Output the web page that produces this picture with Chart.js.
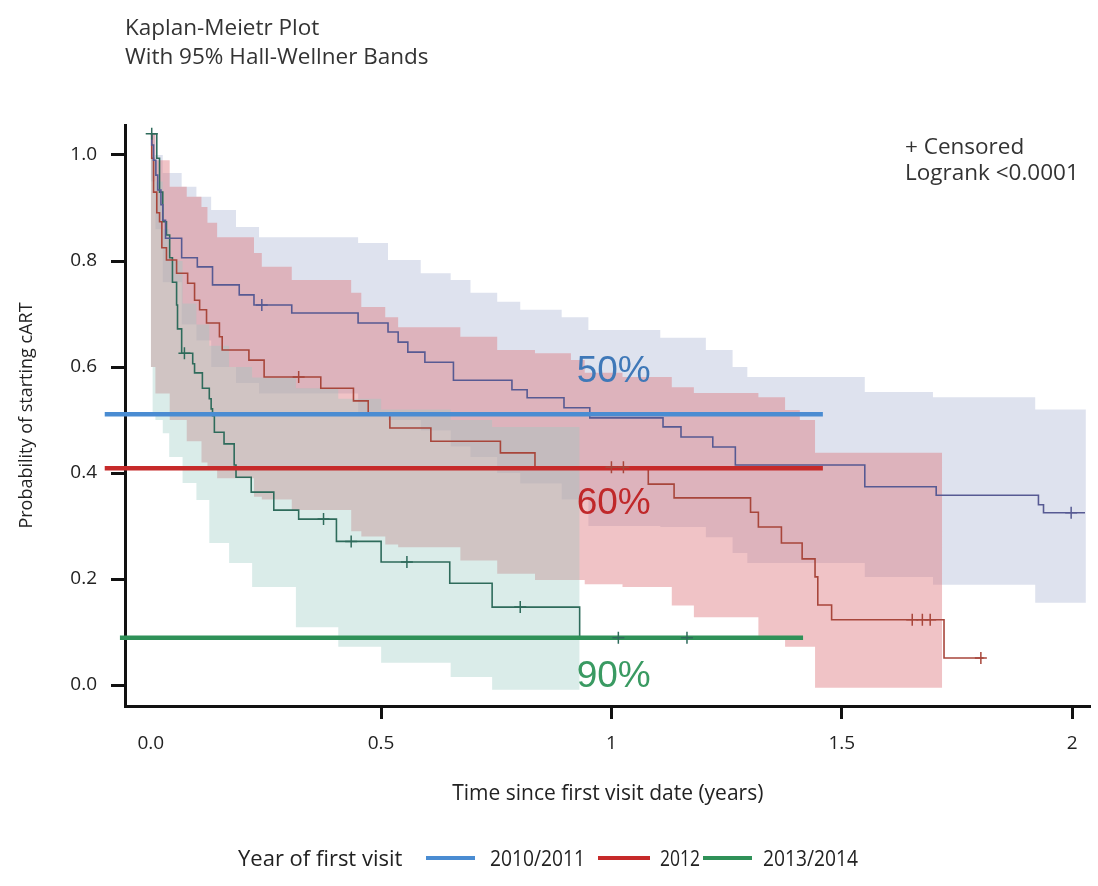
<!DOCTYPE html>
<html>
<head>
<meta charset="utf-8">
<style>
html, body { margin: 0; padding: 0; background: #fff; }
#wrap { width: 1098px; height: 886px; }
</style>
<script src="https://cdn.jsdelivr.net/npm/chart.js@4.4.1/dist/chart.umd.min.js"></script>
</head>
<body>
<div id="wrap"><canvas id="km" width="1098" height="886"></canvas></div>
<script>
// Kaplan-Meier step curves: time (years) where the estimate drops, new value
const blueTime = [0, 0.002, 0.006, 0.011, 0.015, 0.022, 0.026, 0.032, 0.067, 0.101, 0.134, 0.192, 0.224, 0.306, 0.450, 0.515, 0.537, 0.558, 0.595, 0.657, 0.784, 0.817, 0.897, 0.953, 1.112, 1.151, 1.220, 1.269, 1.550, 1.705, 1.927, 1.938, 2.028];
const blueSurv = [1.04, 1.019, 0.99, 0.962, 0.934, 0.906, 0.877, 0.843, 0.806, 0.789, 0.755, 0.736, 0.717, 0.702, 0.683, 0.666, 0.647, 0.628, 0.609, 0.575, 0.557, 0.542, 0.523, 0.504, 0.487, 0.468, 0.449, 0.415, 0.374, 0.358, 0.340, 0.325, 0.325];
const blueCensTime = [0.241, 1.998];
const blueCensSurv = [0.717, 0.325];

const redTime = [0, 0.002, 0.006, 0.013, 0.019, 0.024, 0.034, 0.056, 0.080, 0.095, 0.106, 0.121, 0.149, 0.155, 0.213, 0.246, 0.369, 0.440, 0.472, 0.519, 0.608, 0.759, 0.834, 1.080, 1.136, 1.302, 1.319, 1.369, 1.414, 1.442, 1.448, 1.478, 1.722, 1.808];
const redSurv = [1.04, 0.994, 0.930, 0.891, 0.874, 0.825, 0.802, 0.777, 0.758, 0.726, 0.708, 0.683, 0.657, 0.632, 0.613, 0.581, 0.560, 0.536, 0.511, 0.485, 0.460, 0.438, 0.411, 0.379, 0.353, 0.326, 0.298, 0.268, 0.238, 0.204, 0.151, 0.123, 0.051, 0.051];
const redCensTime = [0.321, 1.000, 1.026, 1.653, 1.675, 1.692, 1.802];
const redCensSurv = [0.581, 0.411, 0.411, 0.123, 0.123, 0.123, 0.051];

const greenTime = [0, 0.013, 0.019, 0.026, 0.034, 0.041, 0.047, 0.056, 0.058, 0.067, 0.091, 0.095, 0.112, 0.127, 0.131, 0.134, 0.138, 0.159, 0.181, 0.185, 0.218, 0.267, 0.321, 0.403, 0.500, 0.649, 0.741, 0.931, 1.164];
const greenSurv = [1.04, 0.994, 0.930, 0.874, 0.849, 0.806, 0.760, 0.717, 0.672, 0.626, 0.606, 0.589, 0.560, 0.540, 0.521, 0.508, 0.477, 0.455, 0.415, 0.392, 0.364, 0.330, 0.313, 0.271, 0.232, 0.192, 0.147, 0.089, 0.089];
const greenCensTime = [0.002, 0.073, 0.375, 0.435, 0.556, 0.802, 1.015, 1.164];
const greenCensSurv = [1.04, 0.626, 0.313, 0.271, 0.232, 0.147, 0.089, 0.089];

// 95% Hall-Wellner bands (step bounds)
const blueBandTime = [0, 0.01, 0.026, 0.067, 0.099, 0.131, 0.185, 0.235, 0.45, 0.515, 0.586, 0.651, 0.694, 0.752, 0.802, 0.892, 0.95, 1.106, 1.205, 1.263, 1.295, 1.55, 1.698, 1.92, 2.03];
const blueBandHi = [1.04, 1.0, 0.966, 0.94, 0.921, 0.896, 0.864, 0.845, 0.834, 0.802, 0.777, 0.764, 0.74, 0.723, 0.708, 0.694, 0.67, 0.655, 0.632, 0.6, 0.581, 0.553, 0.543, 0.52, 0.52];
const blueBandLo = [0.95, 0.86, 0.76, 0.68, 0.65, 0.6, 0.57, 0.55, 0.513, 0.5, 0.48, 0.45, 0.43, 0.4, 0.38, 0.35, 0.3, 0.298, 0.279, 0.249, 0.23, 0.204, 0.189, 0.155, 0.155];

const redBandTime = [0, 0.01, 0.041, 0.078, 0.11, 0.123, 0.144, 0.224, 0.241, 0.306, 0.435, 0.457, 0.509, 0.537, 0.672, 0.752, 0.834, 0.912, 0.942, 1.024, 1.131, 1.179, 1.319, 1.377, 1.409, 1.442, 1.718];
const redBandHi = [1.04, 0.99, 0.94, 0.921, 0.902, 0.872, 0.845, 0.815, 0.789, 0.764, 0.74, 0.713, 0.694, 0.675, 0.657, 0.632, 0.626, 0.613, 0.589, 0.581, 0.562, 0.551, 0.543, 0.519, 0.5, 0.438, 0.438];
const redBandLo = [0.6, 0.55, 0.5, 0.46, 0.42, 0.41, 0.39, 0.355, 0.35, 0.33, 0.29, 0.28, 0.265, 0.26, 0.235, 0.21, 0.198, 0.198, 0.19, 0.185, 0.15, 0.128, 0.085, 0.072, 0.072, -0.005, -0.005];

const greenBandTime = [0, 0.004, 0.01, 0.026, 0.04, 0.069, 0.099, 0.127, 0.17, 0.22, 0.315, 0.407, 0.5, 0.651, 0.741, 0.76, 0.832, 0.931];
const greenBandHi = [1.04, 1.0, 0.95, 0.86, 0.8, 0.72, 0.68, 0.64, 0.6, 0.58, 0.56, 0.54, 0.52, 0.5, 0.487, 0.487, 0.487, 0.487];
const greenBandLo = [0.6, 0.513, 0.5, 0.475, 0.43, 0.381, 0.349, 0.268, 0.23, 0.185, 0.109, 0.072, 0.042, 0.015, -0.009, -0.009, -0.009, -0.009];

// median / reference lines and their labels
const refLevels = [0.511, 0.409, 0.089];
const refStart = [-0.1, -0.1, -0.067];
const refEnd = [1.459, 1.459, 1.416];
const refLabels = ['50%', '60%', '90%'];

const groupNames = ['2010/2011', '2012', '2013/2014'];
const xTicks = [0, 0.5, 1, 1.5, 2];
const xTickLabels = ['0.0', '0.5', '1', '1.5', '2'];
const yTicks = [0, 0.2, 0.4, 0.6, 0.8, 1.0];
const yTickLabels = ['0.0', '0.2', '0.4', '0.6', '0.8', '1.0'];

const curveColors = ['#575a93', '#a8463b', '#2e6b5b'];
const refColors = ['#4a8cd2', '#c62a2a', '#2f9158'];
const labelColors = ['#3f78b8', '#c0282a', '#3a9a62'];
const bandColors = ['rgba(161,172,206,0.35)', 'rgba(222,122,128,0.45)', 'rgba(149,201,192,0.35)'];

const FONT = "'Open Sans', 'Liberation Sans', sans-serif";

const pts = (xs, ys) => xs.map((v, i) => ({x: v, y: ys[i]}));

const stepLine = (xs, ys, color) => ({
    data: pts(xs, ys), borderColor: color, borderWidth: 1.6, stepped: 'before',
    pointRadius: 0, fill: false, order: 3
});
const band = (xs, hi, lo, color, order) => [
    {data: pts(xs, hi), stepped: 'before', borderWidth: 0, borderColor: 'rgba(0,0,0,0)', pointRadius: 0, backgroundColor: color, fill: '+1', order: order},
    {data: pts(xs, lo), stepped: 'before', borderWidth: 0, borderColor: 'rgba(0,0,0,0)', pointRadius: 0, fill: false, order: order}
];
const censors = (xs, ys, color) => ({
    data: pts(xs, ys), showLine: false, pointStyle: 'cross', pointRadius: 6,
    pointBorderWidth: 1.5, pointBorderColor: color, borderColor: color, order: 1
});
const refLine = i => ({
    data: [{x: refStart[i], y: refLevels[i]}, {x: refEnd[i], y: refLevels[i]}],
    borderColor: refColors[i], borderWidth: 4.5, pointRadius: 0, fill: false, clip: false, order: 2
});

const datasets = [].concat(
    band(blueBandTime, blueBandHi, blueBandLo, bandColors[0], 8),
    band(redBandTime, redBandHi, redBandLo, bandColors[1], 7),
    band(greenBandTime, greenBandHi, greenBandLo, bandColors[2], 6),
    [stepLine(blueTime, blueSurv, curveColors[0]),
     stepLine(redTime, redSurv, curveColors[1]),
     stepLine(greenTime, greenSurv, curveColors[2]),
     refLine(0), refLine(1), refLine(2),
     censors(blueCensTime, blueCensSurv, curveColors[0]),
     censors(redCensTime, redCensSurv, curveColors[1]),
     censors(greenCensTime, greenCensSurv, curveColors[2])]
);

const kmText = {
    id: 'kmText',
    afterDatasetsDraw(chart) {
        const {ctx, scales: {x, y}} = chart;
        const offs = [-32, 46, 49];
        ctx.save();
        ctx.font = "37px 'Liberation Sans', Arial, sans-serif";
        ctx.textAlign = 'center';
        ctx.textBaseline = 'alphabetic';
        refLabels.forEach((t, i) => {
            ctx.fillStyle = labelColors[i];
            ctx.fillText(t, x.getPixelForValue(1.005), y.getPixelForValue(refLevels[i]) + offs[i]);
        });
        ctx.restore();
    },
    afterDraw(chart) {
        const ctx = chart.ctx;
        ctx.save();
        ctx.fillStyle = '#333';
        ctx.textBaseline = 'alphabetic';
        ctx.textAlign = 'left';
        ctx.font = '22.5px ' + FONT;
        ctx.fillText('Kaplan-Meietr Plot', 125, 35);
        ctx.fillText('With 95% Hall-Wellner Bands', 125, 64);
        ctx.font = '22.5px ' + FONT;
        ctx.fillText('+ Censored', 905, 154);
        ctx.fillText('Logrank <0.0001', 905, 180);

        // legend (condensed to the widths of the original)
        ctx.font = '22px ' + FONT;
        ctx.fillStyle = '#222';
        ctx.fillText('Year of first visit', 238, 866, 170);
        const lineX = [[426, 475], [598, 650], [703, 752]];
        const textX = [490, 660, 763];
        const textW = [95, 40, 95];
        groupNames.forEach((n, i) => {
            ctx.strokeStyle = refColors[i];
            ctx.lineWidth = 4;
            ctx.beginPath();
            ctx.moveTo(lineX[i][0], 858);
            ctx.lineTo(lineX[i][1], 858);
            ctx.stroke();
            ctx.fillText(n, textX[i], 866, textW[i]);
        });
        ctx.restore();
    }
};

new Chart(document.getElementById('km').getContext('2d'), {
    type: 'line',
    data: {datasets: datasets},
    plugins: [kmText],
    options: {
        responsive: false,
        animation: false,
        events: [],
        layout: {padding: {top: 125, left: 0, right: 0, bottom: 71}},
        plugins: {legend: {display: false}, tooltip: {enabled: false}, title: {display: false}},
        scales: {
            x: {
                type: 'linear', min: -0.056, max: 2.04,
                afterBuildTicks: s => { s.ticks = xTicks.map(v => ({value: v})); },
                afterFit: s => { s.height = 109; },
                ticks: {callback: (v, i) => xTickLabels[i], font: {family: FONT, size: 19}, color: '#222', padding: 13, maxRotation: 0},
                grid: {drawOnChartArea: false, tickLength: 13, tickWidth: 3,
                       tickColor: c => (c.tick && c.tick.value === 0) ? 'rgba(0,0,0,0)' : '#111'},
                border: {display: true, color: '#111', width: 3},
                title: {display: true, text: 'Time since first visit date (years)', font: {family: FONT, size: 21}, color: '#222', padding: {top: 0, bottom: 8}}
            },
            y: {
                type: 'linear', min: -0.0396, max: 1.0566,
                afterBuildTicks: s => { s.ticks = yTicks.map(v => ({value: v})); },
                afterFit: s => { s.width = 125; },
                ticks: {callback: (v, i) => yTickLabels[i], font: {family: FONT, size: 19}, color: '#222', padding: 14},
                grid: {drawOnChartArea: false, tickLength: 14, tickWidth: 3, tickColor: '#111'},
                border: {display: true, color: '#111', width: 3},
                title: {display: true, text: 'Probability of starting cART', font: {family: FONT, size: 18}, color: '#222', padding: {top: 16, bottom: 0}}
            }
        }
    }
});
</script>
</body>
</html>
